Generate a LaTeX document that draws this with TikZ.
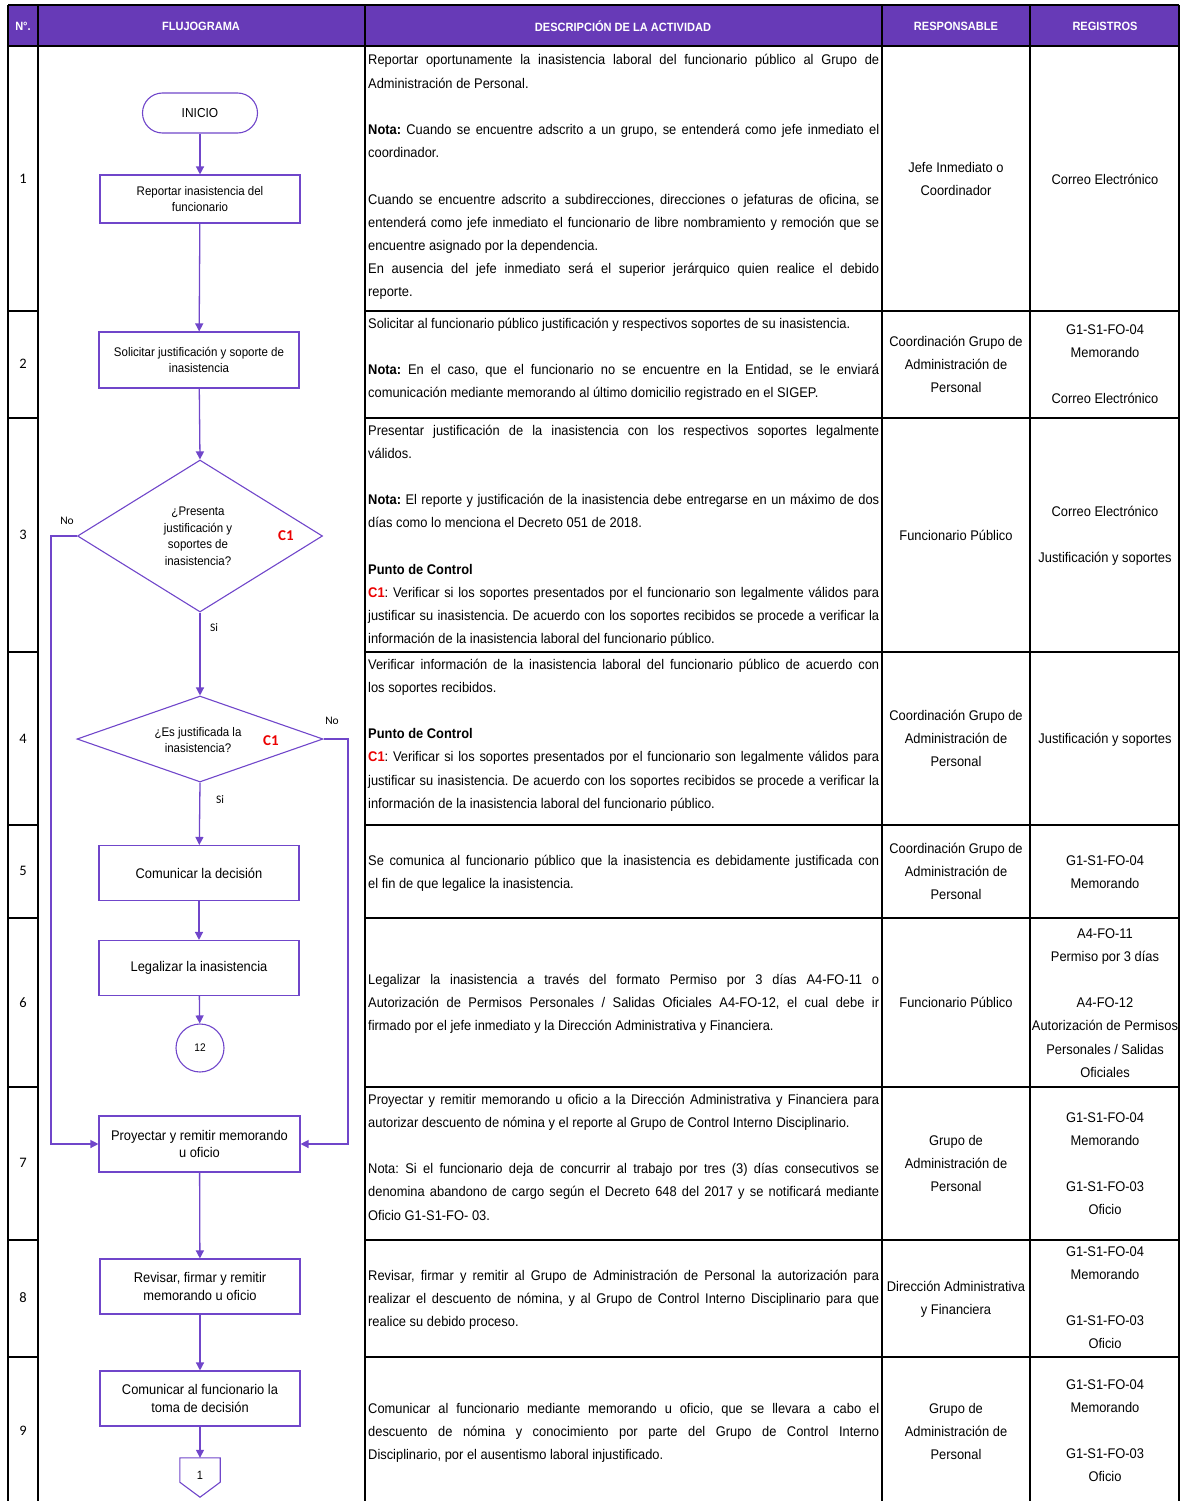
\documentclass[tikz,border=0pt]{standalone}
\usepackage{fontspec}
\setmainfont{Liberation Sans}[FakeStretch=0.92]
\newfontfamily\carl{Carlito}
\usetikzlibrary{arrows.meta,shapes.geometric,calc}
\definecolor{hdr}{RGB}{103,58,183}
\definecolor{flow}{RGB}{112,70,202}
\definecolor{cred}{RGB}{235,0,0}
\newcommand\myfdesc{\fontsize{14}{23.2}\selectfont\frenchspacing\spaceskip=3.6pt plus 20pt minus 1.4pt\relax}
\newcommand\myfbig{\fontsize{14}{17.5}\selectfont}
\newcommand\myfsmall{\fontsize{12.5}{16.5}\selectfont}
\newcommand\JL[1]{\hbox to 511pt{#1}}
\newcommand\LL[1]{\hbox{#1}}
\newcommand\BL{\hbox{}}
\newcommand\CL[1]{\hbox to 146pt{\hss #1\hss}}
\newcommand\dblock[1]{\vtop{\myfdesc #1}}
\newcommand\cone{\textcolor{cred}{\textbf{C1}}}
\begin{document}
\begin{tikzpicture}[x=1pt,y=-1pt,
  gridl/.style={line width=2pt,black},
  hdrtxt/.style={text=white,font=\fontsize{12}{14}\selectfont\bfseries,inner sep=0pt},
  num/.style={font=\carl\fontsize{14.5}{16}\selectfont,inner sep=0pt},
  desc/.style={anchor=base west,inner sep=0pt},
  cell/.style={anchor=base,inner sep=0pt},
  pbox/.style={draw=flow,line width=1.1pt,fill=white,minimum width=200pt,minimum height=55pt,inner sep=0pt,align=center,font=\myfbig},
  sbox/.style={pbox,font=\myfsmall},
  dec/.style={draw=flow,line width=1.1pt,diamond,inner sep=0pt},
  dtxt/.style={align=center,font=\myfsmall,inner sep=0pt},
  ctl/.style={text=cred,font=\carl\bfseries\fontsize{15}{16}\selectfont,inner sep=0pt},
  yn/.style={font=\carl\fontsize{11.5}{13}\selectfont,inner sep=0pt},
  fl/.style={draw=flow,line width=1.3pt,-{Triangle[length=8pt,width=8pt]}},
  fline/.style={draw=flow,line width=1.1pt}]
\useasboundingbox (0,0) rectangle (1180,1501);
% ---------- table ----------
\fill[hdr] (8,5) rectangle (1179,46);
\draw[gridl] (8,5) -- (1179,5);
\draw[gridl] (8,46) -- (1179,46);
\foreach \x in {8,38,365,882,1030,1179} {\draw[gridl] (\x,5) -- (\x,1501);}
\foreach \y in {311,418,652,825,918,1087,1240,1357} {
  \draw[gridl] (8,\y) -- (38,\y);
  \draw[gridl] (365,\y) -- (1179,\y);}
% header
\node[hdrtxt] (h1) at (23,26) {N°.};
\node[hdrtxt] (h2) at (201,26) {FLUJOGRAMA};
\node[hdrtxt] (h3) at (623,26) {DESCRIPCIÓN DE LA ACTIVIDAD};
\node[hdrtxt] (h4) at (956,26) {RESPONSABLE};
\node[hdrtxt] (h5) at (1105,26) {REGISTROS};
% row numbers
\node[num] (n1) at (23,179) {1};
\node[num] (n2) at (23,364) {2};
\node[num] (n3) at (23,535) {3};
\node[num] (n4) at (23,739) {4};
\node[num] (n5) at (23,871) {5};
\node[num] (n6) at (23,1003) {6};
\node[num] (n7) at (23,1163) {7};
\node[num] (n8) at (23,1298) {8};
\node[num] (n9) at (23,1431) {9};
% ---------- descriptions ----------
\node[desc] (t1) at (368,65) {\dblock{%
\JL{Reportar oportunamente la inasistencia laboral del funcionario público al Grupo de}
\LL{Administración de Personal.}
\BL
\JL{\textbf{Nota:} Cuando se encuentre adscrito a un grupo, se entenderá como jefe inmediato el}
\LL{coordinador.}
\BL
\JL{Cuando se encuentre adscrito a subdirecciones, direcciones o jefaturas de oficina, se}
\JL{entenderá como jefe inmediato el funcionario de libre nombramiento y remoción que se}
\LL{encuentre asignado por la dependencia.}
\JL{En ausencia del jefe inmediato será el superior jerárquico quien realice el debido}
\LL{reporte.}}};
\node[desc] (t2) at (368,328) {\dblock{%
\LL{Solicitar al funcionario público justificación y respectivos soportes de su inasistencia.}
\BL
\JL{\textbf{Nota:} En el caso, que el funcionario no se encuentre en la Entidad, se le enviará}
\LL{comunicación mediante memorando al último domicilio registrado en el SIGEP.}}};
\node[desc] (t3) at (368,435) {\dblock{%
\JL{Presentar justificación de la inasistencia con los respectivos soportes legalmente}
\LL{válidos.}
\BL
\JL{\textbf{Nota:} El reporte y justificación de la inasistencia debe entregarse en un máximo de dos}
\LL{días como lo menciona el Decreto 051 de 2018.}
\BL
\LL{\textbf{Punto de Control}}
\JL{\cone: Verificar si los soportes presentados por el funcionario son legalmente válidos para}
\JL{justificar su inasistencia. De acuerdo con los soportes recibidos se procede a verificar la}
\LL{información de la inasistencia laboral del funcionario público.}}};
\node[desc] (t4) at (368,669) {\dblock{%
\JL{Verificar información de la inasistencia laboral del funcionario público de acuerdo con}
\LL{los soportes recibidos.}
\BL
\LL{\textbf{Punto de Control}}
\JL{\cone: Verificar si los soportes presentados por el funcionario son legalmente válidos para}
\JL{justificar su inasistencia. De acuerdo con los soportes recibidos se procede a verificar la}
\LL{información de la inasistencia laboral del funcionario público.}}};
\node[desc] (t5) at (368,865) {\dblock{%
\JL{Se comunica al funcionario público que la inasistencia es debidamente justificada con}
\LL{el fin de que legalice la inasistencia.}}};
\node[desc] (t6) at (368,984) {\dblock{%
\JL{Legalizar la inasistencia a través del formato Permiso por 3 días A4-FO-11 o}
\JL{Autorización de Permisos Personales / Salidas Oficiales A4-FO-12, el cual debe ir}
\LL{firmado por el jefe inmediato y la Dirección Administrativa y Financiera.}}};
\node[desc] (t7) at (368,1104) {\dblock{%
\JL{Proyectar y remitir memorando u oficio a la Dirección Administrativa y Financiera para}
\LL{autorizar descuento de nómina y el reporte al Grupo de Control Interno Disciplinario.}
\BL
\JL{Nota: Si el funcionario deja de concurrir al trabajo por tres (3) días consecutivos se}
\JL{denomina abandono de cargo según el Decreto 648 del 2017 y se notificará mediante}
\LL{Oficio G1-S1-FO- 03.}}};
\node[desc] (t8) at (368,1280) {\dblock{%
\JL{Revisar, firmar y remitir al Grupo de Administración de Personal la autorización para}
\JL{realizar el descuento de nómina, y al Grupo de Control Interno Disciplinario para que}
\LL{realice su debido proceso.}}};
\node[desc] (t9) at (368,1413) {\dblock{%
\JL{Comunicar al funcionario mediante memorando u oficio, que se llevara a cabo el}
\JL{descuento de nómina y conocimiento por parte del Grupo de Control Interno}
\LL{Disciplinario, por el ausentismo laboral injustificado.}}};
% ---------- responsable ----------
\node[cell] (r1) at (956,172) {\dblock{\CL{Jefe Inmediato o}\CL{Coordinador}}};
\node[cell] (r2) at (956,346) {\dblock{\CL{Coordinación Grupo de}\CL{Administración de}\CL{Personal}}};
\node[cell] (r3) at (956,540) {\dblock{\CL{Funcionario Público}}};
\node[cell] (r4) at (956,720) {\dblock{\CL{Coordinación Grupo de}\CL{Administración de}\CL{Personal}}};
\node[cell] (r5) at (956,853) {\dblock{\CL{Coordinación Grupo de}\CL{Administración de}\CL{Personal}}};
\node[cell] (r6) at (956,1007) {\dblock{\CL{Funcionario Público}}};
\node[cell] (r7) at (956,1145) {\dblock{\CL{Grupo de}\CL{Administración de}\CL{Personal}}};
\node[cell] (r8) at (956,1291) {\dblock{\CL{Dirección Administrativa}\CL{y Financiera}}};
\node[cell] (r9) at (956,1413) {\dblock{\CL{Grupo de}\CL{Administración de}\CL{Personal}}};
% ---------- registros ----------
\node[cell] (g1) at (1105,184) {\dblock{\CL{Correo Electrónico}}};
\node[cell] (g2) at (1105,334) {\dblock{\CL{G1-S1-FO-04}\CL{Memorando}\BL\CL{Correo Electrónico}}};
\node[cell] (g3) at (1105,516) {\dblock{\CL{Correo Electrónico}\BL\CL{Justificación y soportes}}};
\node[cell] (g4) at (1105,743) {\dblock{\CL{Justificación y soportes}}};
\node[cell] (g5) at (1105,865) {\dblock{\CL{G1-S1-FO-04}\CL{Memorando}}};
\node[cell] (g6) at (1105,938) {\dblock{\CL{A4-FO-11}\CL{Permiso por 3 días}\BL\CL{A4-FO-12}\CL{Autorización de Permisos}\CL{Personales / Salidas}\CL{Oficiales}}};
\node[cell] (g7) at (1105,1122) {\dblock{\CL{G1-S1-FO-04}\CL{Memorando}\BL\CL{G1-S1-FO-03}\CL{Oficio}}};
\node[cell] (g8) at (1105,1256) {\dblock{\CL{G1-S1-FO-04}\CL{Memorando}\BL\CL{G1-S1-FO-03}\CL{Oficio}}};
\node[cell] (g9) at (1105,1389) {\dblock{\CL{G1-S1-FO-04}\CL{Memorando}\BL\CL{G1-S1-FO-03}\CL{Oficio}}};
% ---------- flowchart ----------
\node[draw=flow,line width=1.1pt,rounded corners=20pt,minimum width=115pt,minimum height=40pt,inner sep=0pt,font=\fontsize{13}{15}\selectfont] (ini) at (200,113) {INICIO};
\node[sbox,minimum height=48pt] (b1) at (200,199) {Reportar inasistencia del\\funcionario};
\node[sbox,minimum height=56pt] (b2) at (199,360) {Solicitar justificación y soporte de\\inasistencia};
\node[dec,minimum width=245pt,minimum height=152pt] (d1) at (200,536) {};
\node[dtxt] (d1t) at (198,536.5) {¿Presenta\\justificación y\\soportes de\\inasistencia?};
\node[ctl] (c1a) at (286,536) {C1};
\node[dec,minimum width=246pt,minimum height=86pt] (d2) at (200,739) {};
\node[dtxt] (d2t) at (198,740) {¿Es justificada la\\inasistencia?};
\node[ctl] (c1b) at (271,741) {C1};
\node[pbox] (b5) at (199,873) {Comunicar la decisión};
\node[pbox] (b6) at (199,968) {Legalizar la inasistencia};
\node[draw=flow,line width=1.1pt,circle,minimum size=48pt,inner sep=0pt,font=\fontsize{11}{13}\selectfont] (c12) at (200,1048) {12};
\node[pbox,minimum width=201pt,minimum height=56pt] (b7) at (199.5,1144) {Proyectar y remitir memorando\\u oficio};
\node[pbox] (b8) at (200,1286.5) {Revisar, firmar y remitir\\memorando u oficio};
\node[pbox] (b9) at (200,1398.5) {Comunicar al funcionario la\\toma de decisión};
\node[minimum width=40pt,minimum height=39pt,inner sep=0pt,font=\fontsize{12}{14}\selectfont] (off) at (200,1477.5) {\raisebox{4pt}{1}};
\draw[fline] (off.north west) -- (off.north east) -- ($(off.south east)+(0,-15)$) -- (off.south) -- ($(off.south west)+(0,-15)$) -- cycle;
% labels
\node[yn] (no1) at (67,521) {No};
\node[yn] (si1) at (214,628) {Si};
\node[yn] (no2) at (332,721) {No};
\node[yn] (si2) at (220,800) {Si};
% connectors
\draw[fl] (ini) -- (b1);
\draw[fl] (b1) -- (b2);
\draw[fl] (b2) -- (d1.north);
\draw[fl] (d1.south) -- (d2.north);
\draw[fl] (d2.south) -- (b5);
\draw[fl] (b5) -- (b6);
\draw[fl] (b6) -- (c12);
\draw[fl] (b7) -- (b8);
\draw[fl] (b8) -- (b9);
\draw[fl] (b9) -- (off.north);
\draw[fl] (d1.west) -- (51,536) |- (b7.west);
\draw[fl] (d2.east) -- (348,739) |- (b7.east);
\end{tikzpicture}
\end{document}
